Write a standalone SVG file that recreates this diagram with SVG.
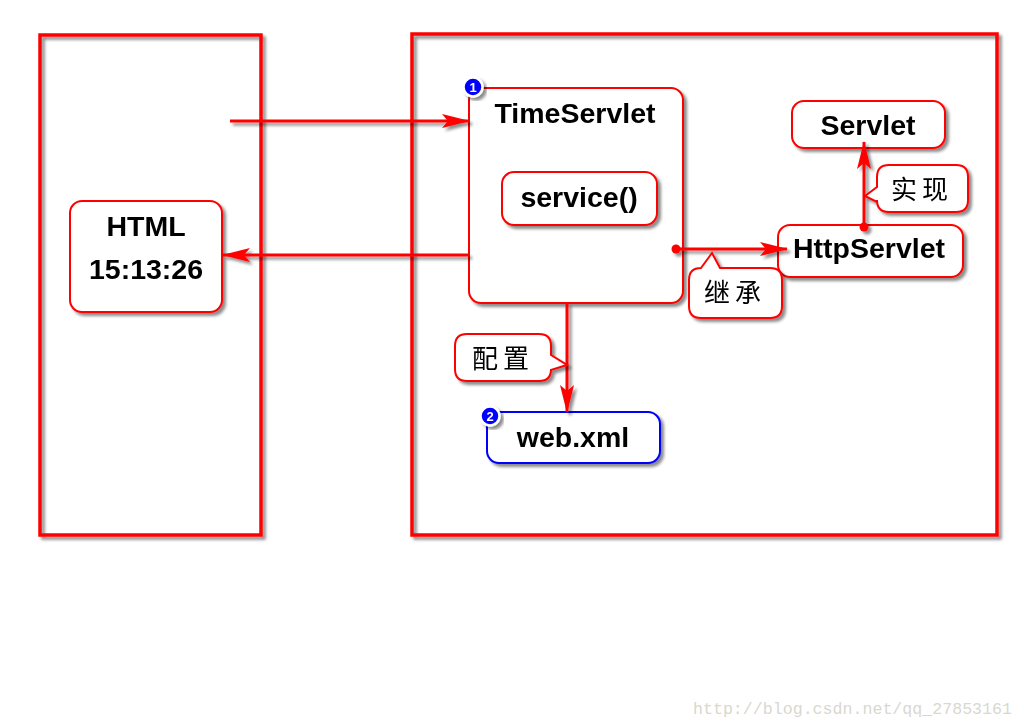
<svg xmlns="http://www.w3.org/2000/svg" width="1024" height="728" viewBox="0 0 1024 728">
<defs>
<filter id="sh" x="-10%" y="-10%" width="130%" height="130%">
<feDropShadow dx="3" dy="3" stdDeviation="1.5" flood-color="#000" flood-opacity="0.45"/>
</filter>
<marker id="ah" viewBox="0 0 28 14" refX="27" refY="7" markerWidth="28" markerHeight="14" markerUnits="userSpaceOnUse" orient="auto">
<path d="M0,0 L28,7 L0,14 L6,7 Z" fill="#ff0000"/>
</marker>
<marker id="dot" viewBox="0 0 10 10" refX="5" refY="5" markerWidth="10" markerHeight="10" markerUnits="userSpaceOnUse">
<circle cx="5" cy="5" r="4.5" fill="#ff0000"/>
</marker>
</defs>
<style>
.cont{fill:none;stroke:#ff0000;stroke-width:3.5}
.box{fill:#fff;stroke:#ff0000;stroke-width:2}
.bbox{fill:#fff;stroke:#0000ff;stroke-width:2}
.t{font-family:"Liberation Sans",Arial,sans-serif;font-weight:bold;font-size:28.5px;fill:#000;text-anchor:middle}
.c{font-family:"Noto Sans CJK SC",sans-serif;font-size:26px;fill:#000;letter-spacing:5px}
.ln{fill:none;stroke:#ff0000;stroke-width:3}
.badge{fill:#0000ff;stroke:#fff;stroke-width:2.5}
.bt{font-family:"Liberation Sans",Arial,sans-serif;font-weight:bold;font-size:13px;fill:#fff;text-anchor:middle}
.wm{font-family:"Liberation Mono",monospace;font-size:16.5px;fill:#d8d8d0}
</style>
<rect width="1024" height="728" fill="#fff"/>
<g id="client" filter="url(#sh)"><rect class="cont" x="40" y="35" width="221" height="500"/></g>
<g id="server" filter="url(#sh)"><rect class="cont" x="412" y="34" width="585" height="501"/></g>

<g id="html" filter="url(#sh)">
<rect class="box" x="70" y="201" width="152" height="111" rx="12"/>
<text class="t" x="146" y="236">HTML</text>
<text class="t" x="146" y="279">15:13:26</text>
</g>

<g id="timeservlet" filter="url(#sh)">
<rect class="box" x="469" y="88" width="214" height="215" rx="12"/>
<text class="t" x="575" y="123">TimeServlet</text>
</g>

<g id="service" filter="url(#sh)">
<rect class="box" x="502" y="172" width="155" height="53" rx="12"/>
<text class="t" x="579" y="207">service()</text>
</g>

<g id="servlet" filter="url(#sh)">
<rect class="box" x="792" y="101" width="153" height="47" rx="12"/>
<text class="t" x="868" y="135">Servlet</text>
</g>

<g id="httpservlet" filter="url(#sh)">
<rect class="box" x="778" y="225" width="185" height="52" rx="12"/>
<text class="t" x="869" y="258">HttpServlet</text>
</g>

<g id="webxml" filter="url(#sh)">
<rect class="bbox" x="487" y="412" width="173" height="51" rx="12"/>
<text class="t" x="573" y="447">web.xml</text>
</g>

<g id="connectors" filter="url(#sh)">
<line class="ln" x1="230" y1="121" x2="469" y2="121" marker-end="url(#ah)"/>
<line class="ln" x1="469" y1="255" x2="223" y2="255" marker-end="url(#ah)"/>
<line class="ln" x1="676" y1="249" x2="787" y2="249" marker-start="url(#dot)" marker-end="url(#ah)"/>
<line class="ln" x1="864" y1="227" x2="864" y2="142" marker-start="url(#dot)" marker-end="url(#ah)"/>
<line class="ln" x1="567" y1="303" x2="567" y2="412" marker-end="url(#ah)"/>
</g>

<g id="badge1" filter="url(#sh)"><circle class="badge" cx="473" cy="87" r="9.5"/><text class="bt" x="473" y="91.5">1</text></g>
<g id="badge2" filter="url(#sh)"><circle class="badge" cx="490" cy="416" r="9.5"/><text class="bt" x="490" y="420.5">2</text></g>

<g id="label-shixian" filter="url(#sh)">
<path class="box" d="M889,165 H956 Q968,165 968,177 V200 Q968,212 956,212 H889 Q877,212 877,200 V202 L865,196 L877,187 V177 Q877,165 889,165 Z"/>
<text class="c" x="891" y="199">实现</text>
</g>

<g id="label-jicheng" filter="url(#sh)">
<path class="box" d="M701,268 L712,253 L720,268 H770 Q782,268 782,280 V306 Q782,318 770,318 H701 Q689,318 689,306 V280 Q689,268 701,268 Z"/>
<text class="c" x="704" y="302">继承</text>
</g>

<g id="label-peizhi" filter="url(#sh)">
<path class="box" d="M467,334 H539 Q551,334 551,346 V355 L567,365 L551,370 V369 Q551,381 539,381 H467 Q455,381 455,369 V346 Q455,334 467,334 Z"/>
<text class="c" x="472" y="368">配置</text>
</g>

<text class="wm" x="693" y="714" textLength="319" lengthAdjust="spacingAndGlyphs">http://blog.csdn.net/qq_27853161</text>
</svg>
